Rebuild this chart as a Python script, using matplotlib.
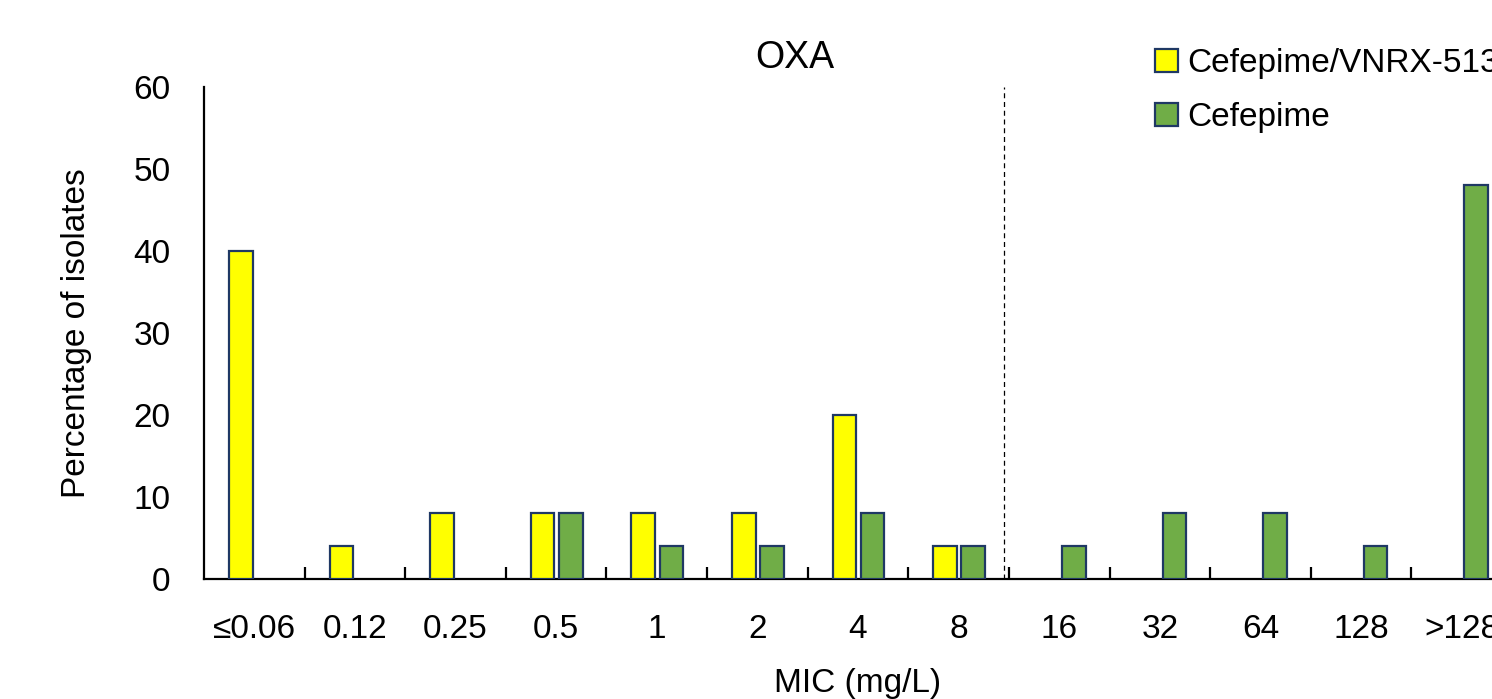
import matplotlib
matplotlib.use("Agg")
import matplotlib.pyplot as plt
import numpy as np

plt.rcParams["font.family"] = ["Liberation Sans", "DejaVu Sans"]
fs, title_fs = 24, 27

mic_labels = ["≤0.06", "0.12", "0.25", "0.5", "1", "2", "4", "8",
              "16", "32", "64", "128", ">128"]
cefepime_vnrx = np.array([40, 4, 8, 8, 8, 8, 20, 4, 0, 0, 0, 0, 0])
cefepime = np.array([0, 0, 0, 8, 4, 4, 8, 4, 4, 8, 8, 4, 48])

edge = "#1F3864"

fig = plt.figure(figsize=(14.92, 6.99), dpi=100)
ax = fig.add_axes([204 / 1492, 1 - 579 / 699, 1308 / 1492, 492 / 699])

x = np.arange(len(mic_labels))
w = 0.235
# empty bins are not drawn at all
m1 = cefepime_vnrx > 0
m2 = cefepime > 0
ax.bar(x[m1] - 0.135, cefepime_vnrx[m1], w, color="#FFFF00", edgecolor=edge,
       linewidth=1.6, label="Cefepime/VNRX-5133", zorder=3)
ax.bar(x[m2] + 0.145, cefepime[m2], w, color="#70AD47", edgecolor=edge,
       linewidth=1.6, label="Cefepime", zorder=3)

ax.set_xlim(-0.5, len(mic_labels) - 0.5)
ax.set_ylim(0, 60)
ax.set_yticks(range(0, 61, 10))
ax.set_xticks(x)
ax.set_xticklabels(mic_labels)
ax.set_xticks(x[:-1] + 0.5, minor=True)
ax.tick_params(axis="x", which="major", length=0, pad=25, labelsize=fs)
ax.tick_params(axis="x", which="minor", direction="in", length=9, width=1.6)
ax.tick_params(axis="y", length=0, pad=24, labelsize=fs)

for side in ["top", "right"]:
    ax.spines[side].set_visible(False)
ax.spines["left"].set_linewidth(1.6)
ax.spines["bottom"].set_linewidth(1.6)

# breakpoint line between 8 and 16
ax.axvline(7.45, color="black", linestyle=(0, (4, 3)), linewidth=0.9, zorder=2)

ax.set_xlabel("MIC (mg/L)", fontsize=fs, labelpad=17)
ax.set_ylabel("Percentage of isolates", fontsize=fs, labelpad=30)

fig.text(795 / 1492, 1 - 58 / 699, "OXA", fontsize=title_fs, ha="center", va="center")

fig.legend(loc="upper left", bbox_to_anchor=(1155 / 1492, 1 - 48 / 699),
           frameon=False, fontsize=fs, handlelength=0.68, handleheight=0.68,
           handletextpad=0.28, labelspacing=0.7, borderpad=0, borderaxespad=0)

fig.savefig("out.png", dpi=100)
